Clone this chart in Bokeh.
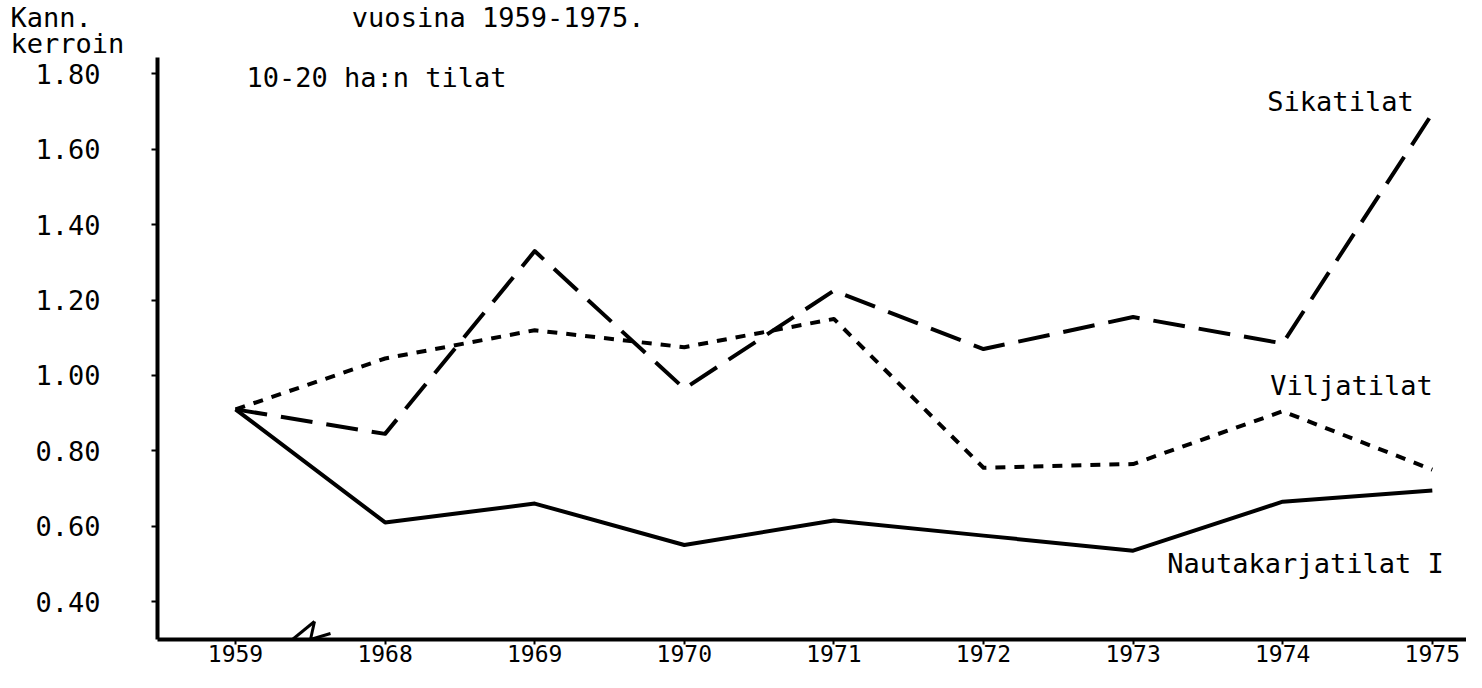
from bokeh.plotting import figure
from bokeh.models import Range1d, FixedTicker, Label, Arrow
from bokeh.embed import file_html
from bokeh.resources import INLINE

# ---- data ----
years = ["1959", "1968", "1969", "1970", "1971", "1972", "1973", "1974", "1975"]
nautakarja = [0.91, 0.61, 0.66, 0.55, 0.615, 0.575, 0.535, 0.665, 0.695]
sika = [0.91, 0.845, 1.33, 0.965, 1.225, 1.07, 1.155, 1.085, 1.695]
vilja = [0.91, 1.045, 1.12, 1.075, 1.15, 0.755, 0.765, 0.905, 0.75]
y_ticks = [0.40, 0.60, 0.80, 1.00, 1.20, 1.40, 1.60, 1.80]
y_tick_labels = ["0.40", "0.60", "0.80", "1.00", "1.20", "1.40", "1.60", "1.80"]

FONT = "DejaVu Sans Mono"
xi = list(range(len(years)))

SHIFT = 10          # vertical offset between reference pixels and figure pixels
FRAME_TOP = 56      # frame top in figure pixels (room for the heading text)
FRAME_BOTTOM = 639  # frame bottom in figure pixels

# reference-pixel -> data helpers (used only to place annotations / ranges)
def rx(px):
    return (px - 235) / 149.6

def ry(py):
    return 0.4 + (611 - py) / 377.5

p = figure(width=1466, height=672,
           x_range=Range1d(rx(157), rx(1466)),
           y_range=Range1d(ry(FRAME_BOTTOM + SHIFT), ry(FRAME_TOP + SHIFT)),
           output_backend="svg", toolbar_location=None,
           min_border_left=157, min_border_right=0,
           min_border_top=FRAME_TOP, min_border_bottom=672 - FRAME_BOTTOM)
p.outline_line_color = None
p.xgrid.visible = False
p.ygrid.visible = False
p.background_fill_color = "white"
p.border_fill_color = "white"

# axes
p.yaxis.ticker = FixedTicker(ticks=y_ticks)
p.yaxis.major_label_overrides = {t: l for t, l in zip(y_ticks, y_tick_labels)}
p.yaxis.axis_line_width = 4
p.yaxis.axis_line_color = "black"
p.yaxis.major_tick_line_width = 2
p.yaxis.major_tick_out = 6
p.yaxis.major_tick_in = 0
p.yaxis.minor_tick_line_color = None
p.yaxis.major_label_standoff = 51
p.yaxis.major_label_text_font = FONT
p.yaxis.major_label_text_font_size = "27px"
p.yaxis.major_label_text_color = "black"

p.xaxis.ticker = FixedTicker(ticks=xi)
p.xaxis.major_label_overrides = {i: y for i, y in zip(xi, years)}
p.xaxis.axis_line_width = 4
p.xaxis.axis_line_color = "black"
p.xaxis.major_tick_line_width = 2
p.xaxis.major_tick_out = 5
p.xaxis.major_tick_in = 0
p.xaxis.minor_tick_line_color = None
p.xaxis.major_label_standoff = 0
p.xaxis.major_label_text_font = FONT
p.xaxis.major_label_text_font_size = "23px"
p.xaxis.major_label_text_color = "black"

# series
p.line(xi, nautakarja, line_width=4, line_color="black", line_join="round")
p.line(xi, sika, line_width=4, line_color="black", line_dash="32 14", line_join="round")
p.line(xi, vilja, line_width=4, line_color="black", line_dash="10 9", line_join="round")

# axis break mark between the first two categories (visible part above the axis)
yb = ry(FRAME_BOTTOM + SHIFT)
brk_x = [rx(292), rx(314), rx(310), rx(330)]
brk_y = [yb, ry(FRAME_BOTTOM + SHIFT - 18), yb, ry(FRAME_BOTTOM + SHIFT - 6)]
for k in range(3):
    p.add_layout(Arrow(end=None, x_start=brk_x[k], y_start=brk_y[k],
                       x_end=brk_x[k + 1], y_end=brk_y[k + 1],
                       line_color="black", line_width=3))

# texts inside the plot area
def lab(text, x, y, align="left"):
    p.add_layout(Label(x=x, y=y, text=text, text_align=align, text_baseline="middle",
                       text_font=FONT, text_font_size="27px", text_color="black"))

lab("10-20 ha:n tilat", rx(376), ry(86), "center")
lab("Sikatilat", rx(1340), ry(110), "center")
lab("Viljatilat", rx(1351), ry(395), "center")
lab("Nautakarjatilat I", rx(1305), ry(573), "center")

# heading lines above the plot area (monospace, so spaces keep the columns)
NB = "\u00a0"
heading = "Kann." + NB * 16 + "vuosina 1959-1975.\nkerroin"
p.add_layout(Label(x=rx(10), y=ry(10), text=heading, text_align="left",
                   text_baseline="top", text_font=FONT, text_font_size="27px",
                   text_line_height=0.85, text_color="black"), "above")

open("out.html", "w").write(file_html(p, INLINE))
